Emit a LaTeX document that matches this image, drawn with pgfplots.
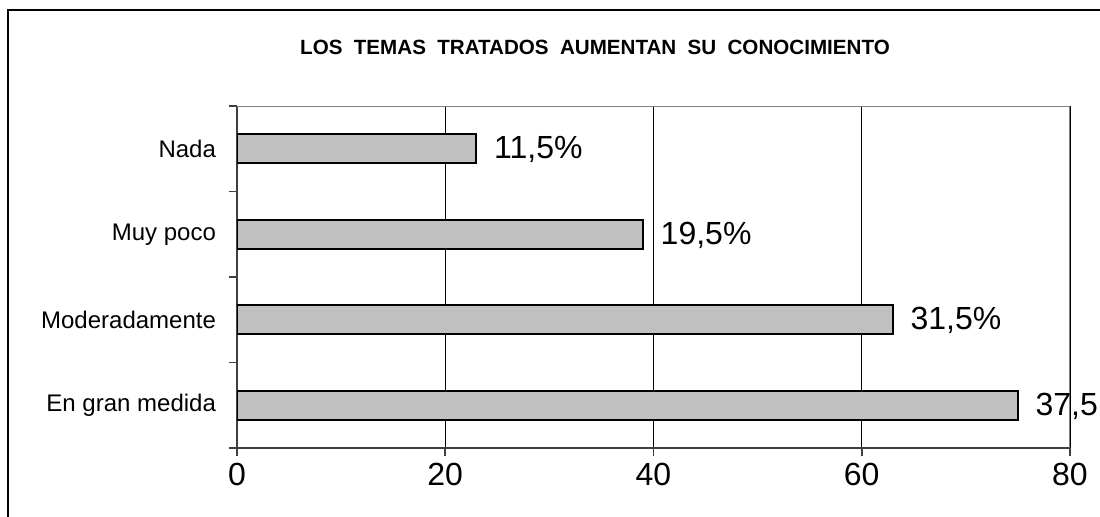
\documentclass[border=0pt]{standalone}
\usepackage{pgfplots}
\pgfplotsset{compat=1.18}
\usepackage{fontspec}
\setmainfont{Liberation Sans}
\definecolor{barfill}{RGB}{192,192,192}
\begin{document}
\begin{tikzpicture}[x=1pt,y=1pt]
\path[use as bounding box] (0,0) rectangle (550,-258);
\draw[line width=0.8pt] (4,-300) -- (4,-5) -- (600,-5);
\node[font=\bfseries\fontsize{10.3}{11}\selectfont] at (297.5,-23.5) {\spaceskip=0.55em LOS TEMAS TRATADOS AUMENTAN SU CONOCIMIENTO};
\begin{axis}[
  at={(118.5pt,-224pt)}, anchor=south west,
  scale only axis, width=416.5pt, height=171pt,
  xbar, bar width=14.5pt,
  xmin=0, xmax=80, ymin=-0.5, ymax=3.5,
  axis x line*=bottom, axis y line*=left,
  axis line style={-, line width=1pt, color=black!75},
  xtick={0,20,40,60,80},
  xmajorgrids, major grid style={black, line width=0.7pt},
  tick align=outside, major tick length=4pt,
  tick style={black!75, line width=0.8pt},
  ytick={-0.5,0.5,1.5,2.5,3.5}, yticklabel={\mbox{}},
  extra y ticks={0,1,2,3},
  extra y tick labels={En gran medida, Moderadamente, Muy poco, Nada},
  extra y tick style={major tick length=0pt, yticklabel style={xshift=-7pt}},
  yticklabel style={font=\fontsize{12}{13}\selectfont},
  xticklabel style={font=\fontsize{16}{18}\selectfont},
  /pgf/number format/assume math mode=true,
  point meta=explicit symbolic,
  nodes near coords={\pgfplotspointmeta},
  nodes near coords align={horizontal},
  every node near coord/.append style={font=\fontsize{16}{18}\selectfont, anchor=west, xshift=5pt, yshift=-0.5pt, black},
]
\addplot[fill=barfill, draw=black, line width=1pt] table[x=v, y=y, meta=lbl] {
v y lbl
75 0 37,5
63 1 31,5\%
39 2 19,5\%
23 3 11,5\%
};
\draw[black!50, line width=0.8pt] (rel axis cs:0,1) -- (rel axis cs:1,1) -- (rel axis cs:1,0);
\end{axis}
\end{tikzpicture}
\end{document}
